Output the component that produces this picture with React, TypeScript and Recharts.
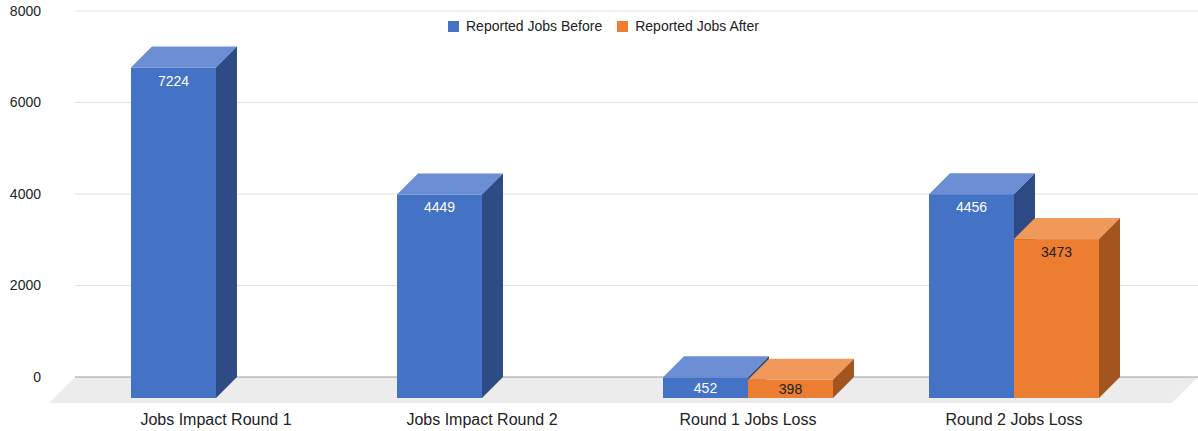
import React from 'react';
import { BarChart, Bar, XAxis, YAxis, CartesianGrid, Legend } from 'recharts';

const categories = ['Jobs Impact Round 1', 'Jobs Impact Round 2', 'Round 1 Jobs Loss', 'Round 2 Jobs Loss'];
const jobsBefore = [7224, 4449, 452, 4456];
const jobsAfter: (number | null)[] = [null, null, 398, 3473];
const yTicks = [0, 2000, 4000, 6000, 8000];
const seriesNames = ['Reported Jobs Before', 'Reported Jobs After'];

const data = categories.map((name, i) => ({ name, before: jobsBefore[i], after: jobsAfter[i] }));

const W = 1198;
const H = 431;
const X_AXIS_H = 30;
const MARGIN = { top: 11, right: 0, bottom: 24, left: 0 };
const BASE_Y = H - MARGIN.bottom - X_AXIS_H;
const DEPTH = 21;
const FLOOR_DEPTH = 26;
const FONT = '"Liberation Sans", Arial, Helvetica, sans-serif';

const palette = {
  before: { front: '#4472c4', top: '#6b8ed4', side: '#2e4b85', label: '#ffffff' },
  after: { front: '#ed7d31', top: '#f1985b', side: '#a3541f', label: '#222222' },
};

type Colors = typeof palette.before;

// draws the bar as a box: front face pushed down-left, top and right side faces to the back plane
const box3D = (c: Colors) => (props: any) => {
  const { x, y, width, height, value } = props;
  if (value == null || !width || height == null || height <= 0) return <g />;
  const fx = x - DEPTH;
  const fy = y + DEPTH;
  const off = Math.min(13, height / 2);
  return (
    <g>
      <rect x={fx} y={fy} width={width} height={height} fill={c.front} />
      <polygon points={`${fx},${fy} ${x},${y} ${x + width},${y} ${fx + width},${fy}`} fill={c.top} />
      <polygon
        points={`${fx + width},${fy} ${x + width},${y} ${x + width},${y + height} ${fx + width},${fy + height}`}
        fill={c.side}
      />
      <text
        x={fx + width / 2}
        y={fy + off}
        textAnchor="middle"
        dominantBaseline="central"
        fill={c.label}
        fontSize={14}
        fontFamily={FONT}
      >
        {value}
      </text>
    </g>
  );
};

const gridLine = (props: any) => {
  const { x1, x2, y1, key } = props;
  if (Math.abs(y1 - BASE_Y) < 1) {
    return (
      <g key={key}>
        <polygon
          points={`${x1},${y1} ${x2},${y1} ${x2 - FLOOR_DEPTH},${y1 + FLOOR_DEPTH} ${x1 - FLOOR_DEPTH},${y1 + FLOOR_DEPTH}`}
          fill="#ececec"
        />
        <line x1={x1} x2={x2} y1={y1} y2={y1} stroke="#9e9e9e" strokeWidth={1} />
      </g>
    );
  }
  return <line key={key} x1={x1} x2={x2} y1={y1} y2={y1} stroke="#e2e2e2" strokeWidth={1} />;
};

const CategoryTick = (props: any) => {
  const { x, payload } = props;
  return (
    <text
      x={x - DEPTH}
      y={BASE_Y + 42}
      textAnchor="middle"
      dominantBaseline="central"
      fill="#222222"
      fontSize={16}
      fontFamily={FONT}
    >
      {payload.value}
    </text>
  );
};

const LegendContent = (props: any) => {
  const payload = [...(props.payload || [])].sort(
    (a: any, b: any) => seriesNames.indexOf(a.value) - seriesNames.indexOf(b.value)
  );
  return (
    <div style={{ display: 'flex', alignItems: 'center', fontFamily: FONT, fontSize: 14, color: '#222222', height: 16 }}>
      {payload.map((p: any) => (
        <span key={p.value} style={{ display: 'flex', alignItems: 'center', marginRight: 15 }}>
          <span style={{ width: 11, height: 11, background: p.color, marginRight: 7, display: 'inline-block' }} />
          {p.value}
        </span>
      ))}
    </div>
  );
};

export default function App() {
  return (
    <div style={{ position: 'absolute', left: 0, top: 0, background: '#fff' }}>
      <BarChart width={W} height={H} data={data} margin={MARGIN} barGap={0} barSize={85}>
        <CartesianGrid vertical={false} horizontal={gridLine} />
        <XAxis
          dataKey="name"
          height={X_AXIS_H}
          tickLine={false}
          axisLine={false}
          padding={{ left: 29, right: 30 }}
          tick={<CategoryTick />}
          interval={0}
        />
        <YAxis
          domain={[0, 8000]}
          ticks={yTicks}
          width={75}
          tickLine={false}
          axisLine={false}
          tickMargin={28}
          tick={{ fill: '#222222', fontSize: 14, fontFamily: FONT }}
        />
        <Legend
          verticalAlign="middle"
          align="center"
          content={<LegendContent />}
          wrapperStyle={{ position: 'absolute', top: 18, left: 448, width: 'auto' }}
        />
        <Bar dataKey="before" name={seriesNames[0]} fill={palette.before.front} shape={box3D(palette.before)} isAnimationActive={false} />
        <Bar dataKey="after" name={seriesNames[1]} fill={palette.after.front} shape={box3D(palette.after)} isAnimationActive={false} />
      </BarChart>
    </div>
  );
}
